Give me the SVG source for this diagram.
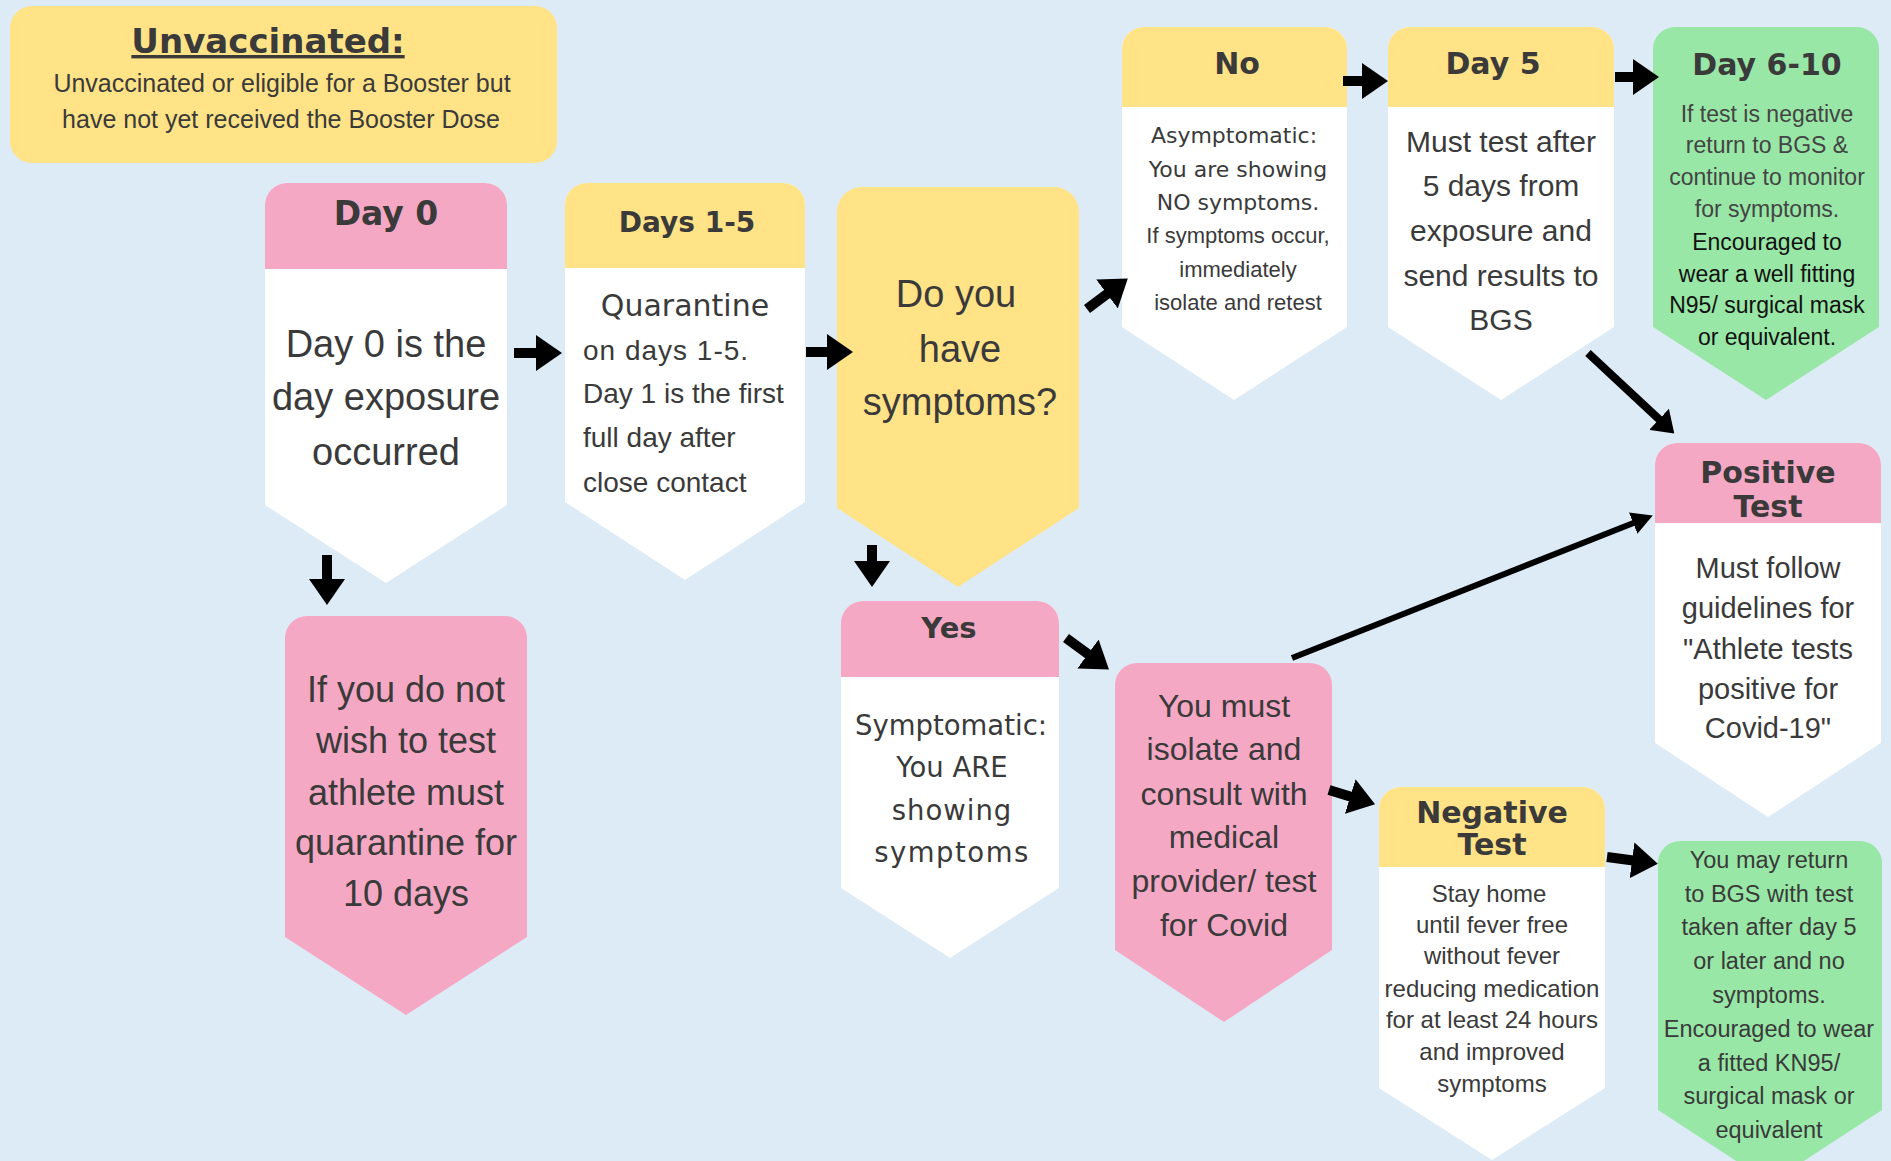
<svg xmlns="http://www.w3.org/2000/svg" width="1891" height="1161" viewBox="0 0 1891 1161">
<style>
.bg{fill:#DDEBF6}
.y{fill:#FFE386}
.p{fill:#F5A8C4}
.g{fill:#98E7A6}
.w{fill:#FFFFFF}
text{fill:#3A3A3A;text-anchor:middle}
.h{font-family:"DejaVu Sans",sans-serif;font-weight:bold;font-size:30px}
.t{font-family:"Liberation Sans",Arial,sans-serif}
.v{font-family:"DejaVu Sans",sans-serif}
.c line{stroke:#000;stroke-linecap:butt}
</style>
<defs>
<marker id="ah" viewBox="0 0 2.6 3.6" markerWidth="2.6" markerHeight="3.6" refX="0.5" refY="1.8" orient="auto" markerUnits="strokeWidth"><path d="M0,0 L2.6,1.8 L0,3.6 Z" fill="#000"/></marker>
<marker id="ahT" viewBox="0 0 3.5 3.8" markerWidth="3.5" markerHeight="3.8" refX="0.5" refY="1.9" orient="auto" markerUnits="strokeWidth"><path d="M0,0 L3.5,1.9 L0,3.8 Z" fill="#000"/></marker>
</defs>
<rect class="bg" x="0" y="0" width="1891" height="1161"/>

<g id="unvaccinated">
<rect class="y" x="10" y="6" width="547" height="157" rx="22"/>
<text class="h" x="268" y="53" style="font-size:34px" text-decoration="underline">Unvaccinated:</text>
<text class="t" x="282" y="92" font-size="25">Unvaccinated or eligible for a Booster but</text>
<text class="t" x="281" y="128" font-size="25">have not yet received the Booster Dose</text>
</g>

<g id="day0">
<path class="w" d="M265 205 A22 22 0 0 1 287 183 H485 A22 22 0 0 1 507 205 V505 L386 583 L265 505 Z"/>
<path class="p" d="M265 269 V205 A22 22 0 0 1 287 183 H485 A22 22 0 0 1 507 205 V269 Z"/>
<text class="h" x="386" y="225" style="font-size:33px">Day 0</text>
<text class="t" x="386" y="357" font-size="38">Day 0 is the</text>
<text class="t" x="386" y="410" font-size="38">day exposure</text>
<text class="t" x="386" y="465" font-size="38">occurred</text>
</g>

<g id="days1-5">
<path class="w" d="M565 205 A22 22 0 0 1 587 183 H783 A22 22 0 0 1 805 205 V502 L685 580 L565 502 Z"/>
<path class="y" d="M565 268 V205 A22 22 0 0 1 587 183 H783 A22 22 0 0 1 805 205 V268 Z"/>
<text class="h" x="687" y="232" style="font-size:28px">Days 1-5</text>
<text class="v" x="685" y="316" font-size="30">Quarantine</text>
<text class="t" x="583" y="360" font-size="28" style="text-anchor:start" letter-spacing="1">on days 1-5.</text>
<text class="t" x="583" y="403" font-size="28" style="text-anchor:start">Day 1 is the first</text>
<text class="t" x="583" y="447" font-size="28" style="text-anchor:start">full day after</text>
<text class="t" x="583" y="492" font-size="28" style="text-anchor:start">close contact</text>
</g>

<g id="question">
<path class="y" d="M837 212 A25 25 0 0 1 862 187 H1054 A25 25 0 0 1 1079 212 V508 L958 587 L837 508 Z"/>
<text class="t" x="956" y="307" font-size="38">Do you</text>
<text class="t" x="960" y="362" font-size="38">have</text>
<text class="t" x="960" y="415" font-size="38">symptoms?</text>
</g>

<g id="no">
<path class="w" d="M1122 49 A22 22 0 0 1 1144 27 H1325 A22 22 0 0 1 1347 49 V327 L1234 400 L1122 327 Z"/>
<path class="y" d="M1122 107 V49 A22 22 0 0 1 1144 27 H1325 A22 22 0 0 1 1347 49 V107 Z"/>
<text class="h" x="1237" y="74">No</text>
<text class="v" x="1234" y="143" font-size="22">Asymptomatic:</text>
<text class="v" x="1238" y="177" font-size="22">You are showing</text>
<text class="v" x="1238" y="210" font-size="22">NO symptoms.</text>
<text class="t" x="1238" y="243" font-size="22">If symptoms occur,</text>
<text class="t" x="1238" y="277" font-size="22">immediately</text>
<text class="t" x="1238" y="310" font-size="22">isolate and retest</text>
</g>

<g id="day5">
<path class="w" d="M1388 49 A22 22 0 0 1 1410 27 H1592 A22 22 0 0 1 1614 49 V327 L1501 400 L1388 327 Z"/>
<path class="y" d="M1388 107 V49 A22 22 0 0 1 1410 27 H1592 A22 22 0 0 1 1614 49 V107 Z"/>
<text class="h" x="1493" y="74">Day 5</text>
<text class="t" x="1501" y="152" font-size="30">Must test after</text>
<text class="t" x="1501" y="196" font-size="30">5 days from</text>
<text class="t" x="1501" y="241" font-size="30">exposure and</text>
<text class="t" x="1501" y="286" font-size="30">send results to</text>
<text class="t" x="1501" y="330" font-size="30">BGS</text>
</g>

<g id="day6-10">
<path class="g" d="M1653 49 A22 22 0 0 1 1675 27 H1857 A22 22 0 0 1 1879 49 V327 L1766 400 L1653 327 Z"/>
<text class="h" x="1767" y="75">Day 6-10</text>
<text class="t" x="1767" y="122" font-size="23" style="fill:#444">If test is negative</text>
<text class="t" x="1767" y="153" font-size="23" style="fill:#444">return to BGS &amp;</text>
<text class="t" x="1767" y="185" font-size="23" style="fill:#444">continue to monitor</text>
<text class="t" x="1767" y="217" font-size="23" style="fill:#444">for symptoms.</text>
<text class="t" x="1767" y="250" font-size="23" style="fill:#111">Encouraged to</text>
<text class="t" x="1767" y="282" font-size="23" style="fill:#111">wear a well fitting</text>
<text class="t" x="1767" y="313" font-size="23" style="fill:#111">N95/ surgical mask</text>
<text class="t" x="1767" y="345" font-size="23" style="fill:#111">or equivalent.</text>
</g>

<g id="positive">
<path class="w" d="M1655 465 A22 22 0 0 1 1677 443 H1859 A22 22 0 0 1 1881 465 V743 L1768 817 L1655 743 Z"/>
<path class="p" d="M1655 523 V465 A22 22 0 0 1 1677 443 H1859 A22 22 0 0 1 1881 465 V523 Z"/>
<text class="h" x="1768" y="483">Positive</text>
<text class="h" x="1768" y="517">Test</text>
<text class="t" x="1768" y="578" font-size="29">Must follow</text>
<text class="t" x="1768" y="618" font-size="29">guidelines for</text>
<text class="t" x="1768" y="659" font-size="29">"Athlete tests</text>
<text class="t" x="1768" y="699" font-size="29">positive for</text>
<text class="t" x="1768" y="738" font-size="29">Covid-19"</text>
</g>

<g id="no-test">
<path class="p" d="M285 638 A22 22 0 0 1 307 616 H505 A22 22 0 0 1 527 638 V937 L406 1015 L285 937 Z"/>
<text class="t" x="406" y="702" font-size="36">If you do not</text>
<text class="t" x="406" y="753" font-size="36">wish to test</text>
<text class="t" x="406" y="805" font-size="36">athlete must</text>
<text class="t" x="406" y="855" font-size="36">quarantine for</text>
<text class="t" x="406" y="906" font-size="36">10 days</text>
</g>

<g id="yes">
<path class="w" d="M841 623 A22 22 0 0 1 863 601 H1037 A22 22 0 0 1 1059 623 V888 L950 958 L841 888 Z"/>
<path class="p" d="M841 677 V623 A22 22 0 0 1 863 601 H1037 A22 22 0 0 1 1059 623 V677 Z"/>
<text class="h" x="949" y="638" style="font-size:29px">Yes</text>
<text class="v" x="951" y="735" font-size="27.5">Symptomatic:</text>
<text class="v" x="952" y="777" font-size="27.5">You ARE</text>
<text class="v" x="952" y="820" font-size="27.5" letter-spacing="1">showing</text>
<text class="v" x="952" y="862" font-size="27.5" letter-spacing="1.5">symptoms</text>
</g>

<g id="isolate">
<path class="p" d="M1115 685 A22 22 0 0 1 1137 663 H1310 A22 22 0 0 1 1332 685 V950 L1224 1022 L1115 950 Z"/>
<text class="t" x="1224" y="717" font-size="32">You must</text>
<text class="t" x="1224" y="760" font-size="32">isolate and</text>
<text class="t" x="1224" y="805" font-size="32">consult with</text>
<text class="t" x="1224" y="848" font-size="32">medical</text>
<text class="t" x="1224" y="892" font-size="32">provider/ test</text>
<text class="t" x="1224" y="936" font-size="32">for Covid</text>
</g>

<g id="negative">
<path class="w" d="M1379 809 A22 22 0 0 1 1401 787 H1583 A22 22 0 0 1 1605 809 V1088 L1492 1160 L1379 1088 Z"/>
<path class="y" d="M1379 867 V809 A22 22 0 0 1 1401 787 H1583 A22 22 0 0 1 1605 809 V867 Z"/>
<text class="h" x="1492" y="823">Negative</text>
<text class="h" x="1492" y="855">Test</text>
<text class="t" x="1489" y="902" font-size="24">Stay home</text>
<text class="t" x="1492" y="933" font-size="24">until fever free</text>
<text class="t" x="1492" y="964" font-size="24">without fever</text>
<text class="t" x="1492" y="997" font-size="24">reducing medication</text>
<text class="t" x="1492" y="1028" font-size="24">for at least 24 hours</text>
<text class="t" x="1492" y="1060" font-size="24">and improved</text>
<text class="t" x="1492" y="1092" font-size="24">symptoms</text>
</g>

<g id="may-return">
<path class="g" d="M1658 863 A22 22 0 0 1 1680 841 H1860 A22 22 0 0 1 1882 863 V1110 L1770 1183 L1658 1110 Z"/>
<text class="t" x="1769" y="868" font-size="23.5">You may return</text>
<text class="t" x="1769" y="902" font-size="23.5">to BGS with test</text>
<text class="t" x="1769" y="935" font-size="23.5">taken after day 5</text>
<text class="t" x="1769" y="969" font-size="23.5">or later and no</text>
<text class="t" x="1769" y="1003" font-size="23.5">symptoms.</text>
<text class="t" x="1769" y="1037" font-size="23.5">Encouraged to wear</text>
<text class="t" x="1769" y="1071" font-size="23.5">a fitted KN95/</text>
<text class="t" x="1769" y="1104" font-size="23.5">surgical mask or</text>
<text class="t" x="1769" y="1138" font-size="23.5">equivalent</text>
</g>

<g id="connectors" class="c">
<line x1="514" y1="353" x2="541" y2="353" stroke-width="10" marker-end="url(#ah)"/>
<line x1="806" y1="352" x2="832" y2="352" stroke-width="10" marker-end="url(#ah)"/>
<line x1="1087" y1="309" x2="1111" y2="291" stroke-width="10" marker-end="url(#ah)"/>
<line x1="872" y1="545" x2="872" y2="566" stroke-width="10" marker-end="url(#ah)"/>
<line x1="1343" y1="81" x2="1367" y2="81" stroke-width="10" marker-end="url(#ah)"/>
<line x1="1615" y1="77" x2="1638" y2="77" stroke-width="10" marker-end="url(#ah)"/>
<line x1="1588" y1="353" x2="1662" y2="422" stroke-width="8" marker-end="url(#ah)"/>
<line x1="1292" y1="658" x2="1636" y2="522" stroke-width="6" marker-end="url(#ahT)"/>
<line x1="327" y1="555" x2="327" y2="584" stroke-width="10" marker-end="url(#ah)"/>
<line x1="1066" y1="638" x2="1092" y2="657" stroke-width="10" marker-end="url(#ah)"/>
<line x1="1329" y1="790" x2="1355" y2="798" stroke-width="10" marker-end="url(#ah)"/>
<line x1="1607" y1="857" x2="1637" y2="861" stroke-width="10" marker-end="url(#ah)"/>
</g>
</svg>
